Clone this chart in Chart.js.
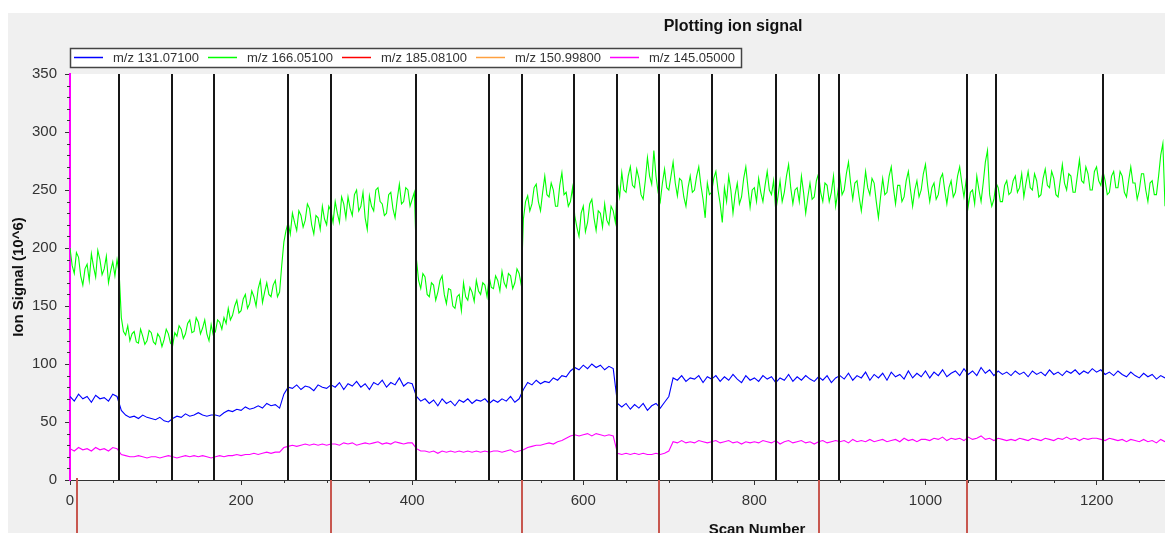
<!DOCTYPE html>
<html><head><meta charset="utf-8">
<script src="https://cdn.jsdelivr.net/npm/chart.js@4.4.1/dist/chart.umd.min.js"></script>
<style>html,body{margin:0;padding:0;background:#fff;}canvas{display:block;}</style>
</head><body>
<canvas id="c" width="1165" height="533"></canvas>
<script>
// ---- data ----
const scanStep = 5;        // blue / magenta: one value every 5 scans
const greenStep = 2.5;     // green: one value every 2.5 scans
const chartTitle = 'Plotting ion signal';
const xTitle = 'Scan Number';
const yTitle = 'Ion Signal (10^6)';
const seriesLabels = ['m/z 131.07100', 'm/z 166.05100', 'm/z 185.08100', 'm/z 150.99800', 'm/z 145.05000'];
const seriesColors = ['#0000ff', '#00ff00', '#ff0000', '#ffa040', '#ff00ff'];

const mz131 = [
72,68,74,70,72,67,73,70,71,68,74,72,60,56,54,55,53,56,54,53,
52,54,51,50,53,55,54,57,55,56,58,56,55,56,56,55,58,60,59,61,
60,63,61,62,64,62,66,64,65,62,74,80,79,82,78,81,80,77,82,80,
79,82,80,84,78,83,81,85,80,83,78,84,82,86,80,84,82,88,81,84,
83,72,68,70,66,69,64,70,66,68,64,69,67,70,66,69,68,70,66,69,
67,70,68,72,67,70,78,84,82,86,83,85,84,88,86,90,89,94,97,95,
99,96,100,97,99,95,98,96,66,63,66,61,65,62,66,60,64,66,62,67,
72,88,86,90,85,88,87,90,84,89,87,90,85,89,86,91,87,84,90,86,
88,85,90,87,89,84,88,86,91,85,89,86,90,87,85,89,86,90,84,88,
90,87,92,86,90,88,93,86,91,88,92,86,93,89,91,87,94,88,92,89,
94,88,93,90,95,89,92,94,90,96,91,94,90,97,92,95,90,94,91,93,
90,94,91,93,89,94,91,93,90,95,91,93,90,94,92,95,91,94,92,96,
93,95,91,93,90,94,91,89,93,90,88,92,89,91,87,90,88
];
const mz166 = [
200,185,178,196,192,176,168,182,186,172,195,184,175,198,190,177,182,193,170,180,188,176,190,178,140,128,125,133,120,126,128,119,118,130,124,117,120,129,127,119,
117,126,123,115,121,130,126,118,116,127,124,133,130,122,126,135,138,127,128,140,136,126,131,138,126,120,134,125,128,138,136,130,140,135,148,138,142,150,155,144,
146,156,160,148,152,163,158,150,165,172,153,162,170,160,158,168,172,158,162,185,205,215,222,212,230,222,215,232,228,218,224,238,234,220,212,228,226,216,236,225,
220,236,232,222,240,230,222,244,238,226,244,234,228,246,250,232,236,248,226,216,245,236,232,250,252,240,238,228,230,246,248,234,226,242,255,238,240,252,250,236,
242,248,190,172,165,178,175,160,158,170,168,155,162,172,176,160,152,165,164,150,148,158,160,146,170,158,155,166,162,154,172,163,160,170,168,158,175,166,165,176,
172,163,180,170,166,178,176,165,170,182,178,168,225,240,245,232,238,252,255,240,232,248,262,246,244,256,250,236,236,254,265,246,248,236,240,252,228,218,210,230,
236,214,222,238,242,226,215,232,230,218,238,224,220,236,232,222,255,244,265,250,248,262,270,254,252,268,260,246,242,258,278,262,255,284,262,248,240,256,268,252,
250,262,274,256,245,260,258,244,236,252,262,248,250,262,270,254,242,226,256,246,248,260,266,250,238,222,252,240,262,250,230,246,256,238,244,260,270,252,235,250,
252,240,260,248,240,254,266,250,246,258,232,244,258,240,248,262,272,252,238,250,252,240,262,248,230,244,256,242,244,258,264,248,240,256,254,240,248,262,236,248,
262,246,250,264,274,256,242,256,258,244,232,248,266,252,246,260,256,240,226,244,260,246,248,262,270,252,238,254,254,240,244,258,266,250,236,250,258,244,250,264,
272,254,240,252,256,242,246,260,264,250,238,252,258,244,248,262,270,256,244,258,236,248,250,238,262,250,240,256,274,284,246,236,242,256,252,240,240,254,258,246,
248,258,262,248,252,264,244,256,266,252,250,264,258,244,246,260,268,254,252,266,260,246,244,258,272,256,250,264,262,248,248,262,276,258,256,270,264,250,250,266,
270,258,254,266,258,246,248,262,266,252,252,266,262,248,244,258,270,256,256,242,250,264,264,250,240,256,258,246,246,262,280,290,236
];
const mz185 = [];
const mz150 = [];
const mz145 = [
27,25,28,26,27,25,28,26,27,25,28,27,22,21,20,20,21,20,19,20,
20,19,20,21,20,19,20,21,20,21,20,21,20,19,20,21,20,21,21,22,
21,22,22,23,22,23,24,23,24,24,28,29,30,29,30,31,30,31,30,31,
30,31,31,30,32,31,32,30,31,32,31,32,33,31,32,31,33,32,31,32,
32,27,25,25,24,25,23,25,24,25,24,25,24,25,24,25,24,25,24,25,
25,24,25,26,24,25,26,28,29,30,30,31,32,31,33,34,36,38,39,38,
39,40,38,40,39,38,39,38,23,22,23,22,23,22,23,22,22,23,22,23,
25,33,32,34,32,33,32,34,33,32,33,34,32,33,34,32,33,31,33,32,
33,32,34,33,32,34,31,33,34,32,33,34,32,33,31,33,34,32,33,34,
33,34,32,35,33,34,33,35,33,34,35,33,34,35,33,36,34,35,33,35,
35,34,36,35,37,34,36,35,36,34,37,35,36,38,35,36,34,36,35,34,
35,34,36,35,34,36,35,34,36,35,34,36,35,37,35,36,34,36,35,36,
36,35,34,36,35,34,35,33,35,34,33,35,33,34,32,35,33
];
const eventScans = [57,119,168,255,305,404,490,528,589,639,688,750,825,875,899,1048,1083,1208];
const redScans = [8,305,528,688,875,1048];
const xTickValues = [0,200,400,600,800,1000,1200];
const yTickValues = [0,50,100,150,200,250,300,350];
const xRange = [0, 1280];
const yRange = [0, 350];

// ---- chart ----
const FONT = '"Liberation Sans", Arial, sans-serif';
const toPts = (arr, step) => arr.map((v, i) => ({x: i * step, y: v}));
const seriesData = [mz131, mz166, mz185, mz150, mz145];
const seriesSteps = [scanStep, greenStep, scanStep, scanStep, scanStep];

const bgPlugin = {
  id: 'bg',
  beforeDraw(chart) {
    const {ctx, width, height, chartArea: a} = chart;
    ctx.save();
    ctx.fillStyle = '#ffffff'; ctx.fillRect(0, 0, width, height);
    ctx.fillStyle = '#f0f0f0'; ctx.fillRect(8, 13, width - 8, height - 13);
    ctx.fillStyle = '#ffffff'; ctx.fillRect(a.left, a.top, a.right - a.left, a.bottom - a.top);
    ctx.restore();
  }
};

const markerPlugin = {
  id: 'markers',
  afterDatasetsDraw(chart) {
    const {ctx, chartArea: a, scales: {x}} = chart;
    ctx.save();
    ctx.strokeStyle = '#c8574f'; ctx.lineWidth = 2;
    redScans.forEach(s => {
      const px = Math.round(x.getPixelForValue(s));
      ctx.beginPath(); ctx.moveTo(px, a.bottom - 2); ctx.lineTo(px, chart.height); ctx.stroke();
    });
    ctx.strokeStyle = '#161616'; ctx.lineWidth = 2;
    eventScans.forEach(s => {
      const px = Math.round(x.getPixelForValue(s));
      ctx.beginPath(); ctx.moveTo(px, a.top); ctx.lineTo(px, a.bottom); ctx.stroke();
    });
    ctx.restore();
  }
};

const decoPlugin = {
  id: 'deco',
  afterDraw(chart) {
    const {ctx, chartArea: a, scales: {x, y}} = chart;
    ctx.save();
    // minor ticks
    ctx.strokeStyle = '#333'; ctx.lineWidth = 1;
    for (let v = 0; v <= xRange[1]; v += 50) {
      if (v % 200 === 0) continue;
      const px = Math.round(x.getPixelForValue(v)) + 0.5;
      ctx.beginPath(); ctx.moveTo(px, a.bottom); ctx.lineTo(px, a.bottom + 3); ctx.stroke();
    }
    for (let v = 0; v <= yRange[1]; v += 10) {
      if (v % 50 === 0) continue;
      const py = Math.round(y.getPixelForValue(v)) + 0.5;
      ctx.beginPath(); ctx.moveTo(a.left - 3, py); ctx.lineTo(a.left, py); ctx.stroke();
    }
    // title
    ctx.fillStyle = '#111';
    ctx.font = 'bold 16px ' + FONT;
    ctx.textAlign = 'center'; ctx.textBaseline = 'middle';
    ctx.fillText(chartTitle, 733, 27);
    // x title
    ctx.font = 'bold 15px ' + FONT;
    ctx.textBaseline = 'alphabetic';
    ctx.fillText(xTitle, 757, 534);
    // y title
    ctx.save();
    ctx.translate(19, 277); ctx.rotate(-Math.PI / 2);
    ctx.textBaseline = 'middle';
    ctx.fillText(yTitle, 0, 0);
    ctx.restore();
    // legend
    const lx = 70, ly = 48, lw = 671, lh = 19;
    ctx.fillStyle = '#ffffff'; ctx.fillRect(lx, ly, lw, lh);
    ctx.strokeStyle = '#444'; ctx.lineWidth = 1.5;
    ctx.strokeRect(lx + 0.5, ly + 0.5, lw, lh);
    ctx.font = '13px ' + FONT; ctx.textAlign = 'left'; ctx.textBaseline = 'middle';
    chart.data.datasets.forEach((ds, i) => {
      const sx = 74 + i * 134;
      ctx.strokeStyle = ds.borderColor; ctx.lineWidth = 1.5;
      ctx.beginPath(); ctx.moveTo(sx, ly + 9.5); ctx.lineTo(sx + 29, ly + 9.5); ctx.stroke();
      ctx.fillStyle = '#333';
      ctx.fillText(ds.label, sx + 39, ly + 10);
    });
    ctx.restore();
  }
};

new Chart(document.getElementById('c'), {
  type: 'line',
  data: {
    datasets: seriesData.map((arr, i) => ({
      label: seriesLabels[i],
      data: toPts(arr, seriesSteps[i]),
      borderColor: seriesColors[i],
      backgroundColor: seriesColors[i],
      borderWidth: 1.1,
      pointRadius: 0,
      tension: 0,
      fill: false
    }))
  },
  options: {
    responsive: false,
    animation: false,
    devicePixelRatio: 1,
    layout: {padding: {top: 74, left: 0, right: 0, bottom: 0}},
    plugins: {legend: {display: false}, title: {display: false}, tooltip: {enabled: false}},
    scales: {
      x: {
        type: 'linear', min: xRange[0], max: xRange[1],
        afterFit: s => { s.height = 53; },
        afterBuildTicks: s => { s.ticks = xTickValues.map(v => ({value: v})); },
        ticks: {color: '#333', font: {size: 15, family: FONT}, padding: 7, maxRotation: 0, autoSkip: false, includeBounds: false,
                callback: v => String(v)},
        grid: {drawOnChartArea: false, drawTicks: true, tickLength: 5, tickColor: '#333'},
        border: {color: '#333', width: 1}
      },
      y: {
        type: 'linear', min: yRange[0], max: yRange[1],
        afterFit: s => { s.width = 70; },
        afterBuildTicks: s => { s.ticks = yTickValues.map(v => ({value: v})); },
        ticks: {color: '#333', font: {size: 15, family: FONT}, padding: 8, autoSkip: false, includeBounds: false,
                callback: v => String(v)},
        grid: {drawOnChartArea: false, drawTicks: true, tickLength: 5, tickColor: '#333'},
        border: {color: '#ff00ff', width: 2}
      }
    }
  },
  plugins: [bgPlugin, markerPlugin, decoPlugin]
});
</script>
</body></html>
